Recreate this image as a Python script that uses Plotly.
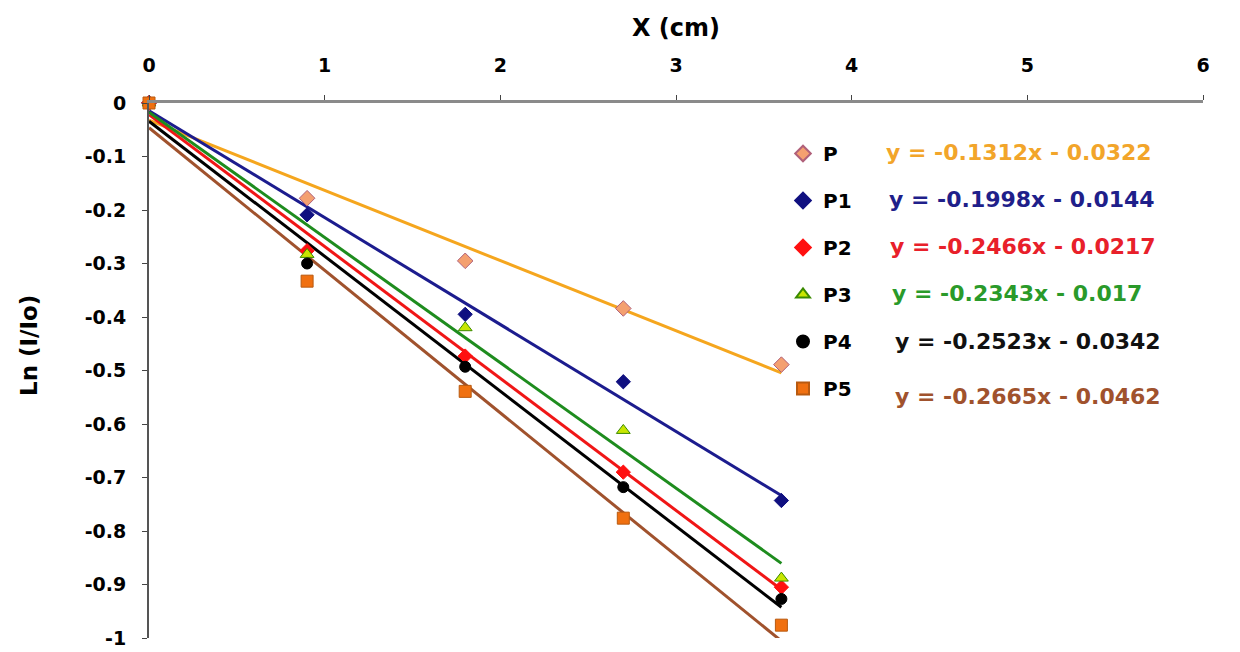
import numpy as np
import plotly.graph_objects as go

x_cm = [0, 0.9, 1.8, 2.7, 3.6]
series_names = ["P", "P1", "P2", "P3", "P4", "P5"]
y_P = [0, -0.178, -0.295, -0.384, -0.489]
y_P1 = [0, -0.209, -0.395, -0.521, -0.743]
y_P2 = [0, -0.276, -0.473, -0.690, -0.905]
y_P3 = [0, -0.283, -0.420, -0.612, -0.888]
y_P4 = [0, -0.300, -0.493, -0.718, -0.927]
y_P5 = [0, -0.333, -0.539, -0.776, -0.976]
slopes = [-0.1312, -0.1998, -0.2466, -0.2343, -0.2523, -0.2665]
intercepts = [-0.0322, -0.0144, -0.0217, -0.017, -0.0342, -0.0462]
equations = ["y = -0.1312x - 0.0322", "y = -0.1998x - 0.0144", "y = -0.2466x - 0.0217",
             "y = -0.2343x - 0.017", "y = -0.2523x - 0.0342", "y = -0.2665x - 0.0462"]
y_ticks = [0, -0.1, -0.2, -0.3, -0.4, -0.5, -0.6, -0.7, -0.8, -0.9, -1]
y_tick_labels = ["0", "-0.1", "-0.2", "-0.3", "-0.4", "-0.5", "-0.6", "-0.7", "-0.8", "-0.9", "-1"]
x_ticks = [0, 1, 2, 3, 4, 5, 6]

ys = [y_P, y_P1, y_P2, y_P3, y_P4, y_P5]
line_colors = ["#F5A61E", "#1C1C8E", "#F01616", "#1E8C1E", "#000000", "#A0522D"]
eq_colors = ["#F2A52A", "#1F1F8A", "#E8202A", "#2A9A2A", "#111111", "#A0522D"]
marker_symbols = ["diamond", "diamond", "diamond", "triangle-up", "circle", "square"]
marker_fill = ["#F4A070", "#101080", "#FF1010", "#C8E600", "#000000", "#F07010"]
marker_edge = ["#B0607A", "#101080", "#FF1010", "#3A8A00", "#000000", "#B85A10"]
marker_size = [12, 11, 11, 12, 11, 12]

FONT = "DejaVu Sans, Verdana, sans-serif"
fig = go.Figure()

xfit = np.array([0, x_cm[-1]])
for i, name in enumerate(series_names):
    fig.add_trace(go.Scatter(
        x=xfit, y=slopes[i] * xfit + intercepts[i], mode="lines",
        line=dict(color=line_colors[i], width=3), showlegend=False, hoverinfo="skip"))

for i, name in enumerate(series_names):
    fig.add_trace(go.Scatter(
        x=x_cm, y=ys[i], mode="markers", name=name, legendgroup=name,
        marker=dict(symbol=marker_symbols[i], size=marker_size[i], color=marker_fill[i],
                    line=dict(color=marker_edge[i], width=1)),
        cliponaxis=False))

eq_y_px = [152, 199, 246, 293, 341, 396]
eq_x_px = [884, 887, 888, 890, 893, 893]
plot_l, plot_r, plot_t, plot_b = 149, 1203, 103, 638
for i, eq in enumerate(equations):
    fig.add_annotation(
        x=(eq_x_px[i] - plot_l) / (plot_r - plot_l), y=(plot_b - eq_y_px[i]) / (plot_b - plot_t),
        xref="paper", yref="paper", xanchor="left", yanchor="middle", showarrow=False,
        text=f"<b>{eq}</b>", font=dict(family=FONT, size=22, color=eq_colors[i]))

# y-axis title placed as rotated text
fig.add_annotation(
    x=(29 - plot_l) / (plot_r - plot_l), y=(plot_b - 346) / (plot_b - plot_t),
    xref="paper", yref="paper", xanchor="center", yanchor="middle", showarrow=False,
    textangle=-90, text="<b>Ln (I/Io)</b>", font=dict(family=FONT, size=23, color="#000000"))

fig.update_layout(
    width=1240, height=652,
    margin=dict(l=plot_l, r=1240 - plot_r, t=plot_t, b=652 - plot_b, autoexpand=False),
    paper_bgcolor="white", plot_bgcolor="white",
    font=dict(family=FONT, color="#000000"),
    showlegend=True,
    legend=dict(x=(783 - plot_l) / (plot_r - plot_l), y=(plot_b - 134) / (plot_b - plot_t),
                xanchor="left", yanchor="top", tracegroupgap=18,
                font=dict(family=FONT, size=20, color="#000000", weight="bold"),
                bgcolor="rgba(0,0,0,0)", itemsizing="constant"),
    xaxis=dict(side="top", range=[0, 6], tickvals=x_ticks, ticktext=[str(v) for v in x_ticks],
               showgrid=False, zeroline=False, showline=True, linecolor="#8A8A8A", linewidth=3,
               ticks="outside", ticklen=5, tickcolor="#444", tickwidth=1,
               ticklabelstandoff=15,
               tickfont=dict(family=FONT, size=19, weight="bold"),
               title=dict(text="<b>X (cm)</b>", font=dict(family=FONT, size=24), standoff=12)),
    yaxis=dict(range=[-1, 0], tickvals=y_ticks, ticktext=y_tick_labels,
               showgrid=False, zeroline=False, showline=True, linecolor="#555555", linewidth=2,
               ticks="outside", ticklen=5, tickcolor="#444", tickwidth=1,
               ticklabelstandoff=12,
               tickfont=dict(family=FONT, size=19, weight="bold")),
)

fig.write_html("out.html", config={"displayModeBar": False},
               post_script="document.body.style.margin='0';")
